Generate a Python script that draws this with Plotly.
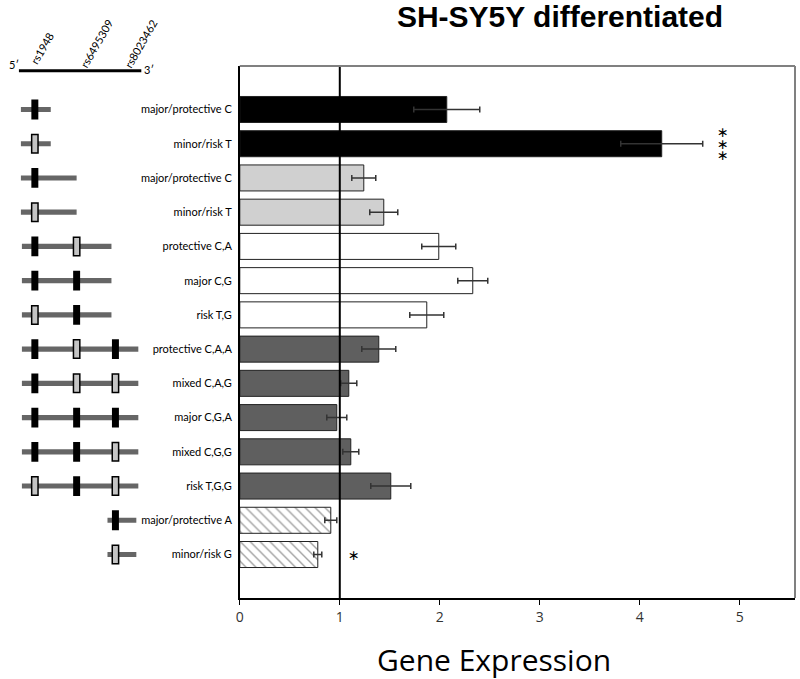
import plotly.graph_objects as go

# ---------------- data ----------------
labels = ["major/protective C", "minor/risk T", "major/protective C", "minor/risk T",
          "protective C,A", "major C,G", "risk T,G", "protective C,A,A", "mixed C,A,G",
          "major C,G,A", "mixed C,G,G", "risk T,G,G", "major/protective A", "minor/risk G"]
values = [2.07, 4.22, 1.24, 1.44, 1.99, 2.33, 1.87, 1.39, 1.09, 0.97, 1.11, 1.51, 0.91, 0.78]
errors = [0.33, 0.41, 0.12, 0.14, 0.17, 0.15, 0.17, 0.17, 0.08, 0.10, 0.08, 0.20, 0.06, 0.04]
bar_colors = ["#000000", "#000000", "#d0d0d0", "#d0d0d0", "#ffffff", "#ffffff", "#ffffff",
              "#5f5f5f", "#5f5f5f", "#5f5f5f", "#5f5f5f", "#5f5f5f", "#ffffff", "#ffffff"]
bar_patterns = ["", "", "", "", "", "", "", "", "", "", "", "", "\\", "\\"]
significance = [0, 3, 0, 0, 0, 0, 0, 0, 0, 0, 0, 0, 0, 1]   # number of stars
star_x = [None, 4.83, None, None, None, None, None, None, None, None, None, None, None, 1.14]
x_ticks = [0, 1, 2, 3, 4, 5]

# construct schematic (schematic units along the gene)
snp_names = ["rs1948", "rs6495309", "rs8023462"]
snp_pos = [31, 73, 112]
construct_start = [17, 17, 17, 17, 18, 18, 18, 18, 18, 18, 18, 18, 104, 104]
construct_end = [47, 47, 73, 73, 108, 108, 108, 135, 135, 135, 135, 135, 133, 133]
# allele at each SNP: "M" major, "m" minor, "" absent
alleles = [["M", "", ""], ["m", "", ""], ["M", "", ""], ["m", "", ""],
           ["M", "m", ""], ["M", "M", ""], ["m", "M", ""],
           ["M", "m", "M"], ["M", "m", "m"], ["M", "M", "M"], ["M", "M", "m"], ["m", "M", "m"],
           ["", "", "M"], ["", "", "m"]]
gene_start, gene_end = 15, 138

rows = list(range(len(labels)))

fig = go.Figure()
fig.add_trace(go.Bar(
    y=rows, x=values, orientation="h", width=0.76,
    marker=dict(color=bar_colors, line=dict(color="#222222", width=1),
                pattern=dict(shape=bar_patterns, fgcolor="#000000", bgcolor="#ffffff",
                             size=7, solidity=0.2, fillmode="overlay")),
    error_x=dict(type="data", array=errors, color="#333333", thickness=1.5, width=3),
    showlegend=False, hoverinfo="skip"))
fig.add_trace(go.Scatter(x=[None], y=[None], xaxis="x2", yaxis="y", showlegend=False,
                         hoverinfo="skip"))

shapes = []
shapes.append(dict(type="line", xref="x", yref="y domain", x0=1, x1=1, y0=0, y1=1,
                   line=dict(color="#000000", width=2), layer="above"))
shapes.append(dict(type="line", xref="x domain", yref="y domain", x0=0, x1=1, y0=1, y1=1,
                   line=dict(color="#808080", width=2)))
shapes.append(dict(type="line", xref="x domain", yref="y domain", x0=1, x1=1, y0=0, y1=1,
                   line=dict(color="#808080", width=2)))
shapes.append(dict(type="line", xref="x2", yref="y", x0=gene_start, x1=gene_end, y0=-1.13, y1=-1.13,
                   line=dict(color="#000000", width=3)))
for i in rows:
    shapes.append(dict(type="rect", xref="x2", yref="y", x0=construct_start[i], x1=construct_end[i],
                       y0=i - 0.075, y1=i + 0.075, fillcolor="#666666", line=dict(width=0)))
    for k, a in enumerate(alleles[i]):
        if not a:
            continue
        if a == "M":
            shapes.append(dict(type="rect", xref="x2", yref="y", x0=snp_pos[k] - 3.5, x1=snp_pos[k] + 3.5,
                               y0=i - 0.29, y1=i + 0.29, fillcolor="#000000", line=dict(width=0)))
        else:
            shapes.append(dict(type="rect", xref="x2", yref="y", x0=snp_pos[k] - 3.2, x1=snp_pos[k] + 3.2,
                               y0=i - 0.27, y1=i + 0.27, fillcolor="#c4c4c4",
                               line=dict(color="#000000", width=1.5)))

annotations = []
for i in rows:
    n = significance[i]
    for s in range(n):
        off = (s - (n - 1) / 2) * 0.34
        annotations.append(dict(x=star_x[i], y=i + off, xref="x", yref="y", text="∗", showarrow=False,
                                xanchor="center", yanchor="middle",
                                font=dict(family="DejaVu Sans", size=14, color="#000000")))
snp_label_xy = [(38, 1.033), (93, 1.042), (137.5, 1.042)]
for name, (sx, sy) in zip(snp_names, snp_label_xy):
    annotations.append(dict(x=sx, y=sy, xref="x2", yref="paper", text=name, showarrow=False,
                            xanchor="center", yanchor="middle",
                            textangle=-60, font=dict(family="Lato", size=11, color="#000000")))
annotations.append(dict(x=10, y=1.002, xref="x2", yref="paper", text="5′", showarrow=False,
                        xanchor="center", yanchor="middle",
                        font=dict(family="Lato", size=11, color="#000000")))
annotations.append(dict(x=146, y=0.994, xref="x2", yref="paper", text="3′", showarrow=False,
                        xanchor="center", yanchor="middle",
                        font=dict(family="Lato", size=11, color="#000000")))
annotations.append(dict(x=0.458, y=-0.1165, xref="x domain", yref="paper", text="Gene Expression",
                        showarrow=False, xanchor="center", yanchor="middle",
                        font=dict(family="Open Sans", size=30, color="#000000")))

fig.update_layout(
    width=800, height=679,
    margin=dict(l=0, r=5, t=66, b=81),
    paper_bgcolor="#ffffff", plot_bgcolor="#ffffff",
    title=dict(text="<b>SH-SY5Y differentiated</b>", x=0.7, xanchor="center", y=0.976, yanchor="middle",
               font=dict(family="Liberation Sans", size=30, color="#000000")),
    xaxis=dict(domain=[237 / 795, 1.0], range=[0, 5.553], tickvals=x_ticks,
               showgrid=False, zeroline=False, showline=True, linecolor="#000000", linewidth=1.5,
               ticks="outside", ticklen=5, tickcolor="#000000",
               tickfont=dict(family="Open Sans", size=14, color="#333333"), anchor="y"),
    xaxis2=dict(domain=[0, 237 / 795], range=[0, 237], visible=False, anchor="y"),
    yaxis=dict(range=[14.27, -1.27], tickvals=rows, ticktext=labels, showgrid=False, zeroline=False,
               showline=True, linecolor="#000000", linewidth=1.5, ticks="", ticklabelstandoff=4,
               tickfont=dict(family="Lato", size=11, color="#000000"), automargin=False, anchor="x"),
    shapes=shapes, annotations=annotations, bargap=0.24,
)

fig.write_html("out.html", config={"displayModeBar": False},
               post_script="document.body.style.margin='0';document.body.style.padding='0';")
